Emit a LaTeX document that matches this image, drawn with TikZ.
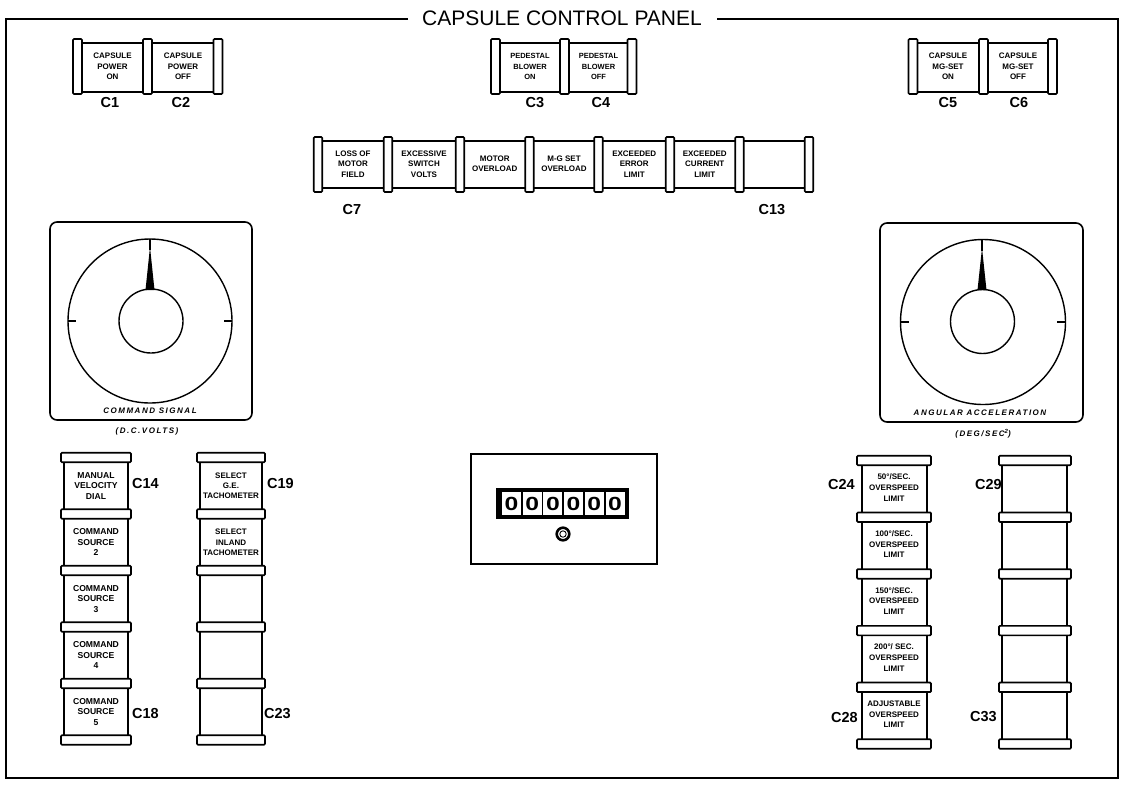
\documentclass[tikz,border=0pt]{standalone}
\usepackage{fontspec}
\usepackage{graphicx}
\setmainfont{Liberation Sans}
\newfontfamily\spacedfont[LetterSpace=19]{Liberation Sans}
\begin{document}
\begin{tikzpicture}[x=1pt,y=-1pt,
  frameline/.style={line width=1.2pt},
  bodyline/.style={line width=1.6pt},
  capbox/.style={line width=1.7pt, fill=white, rounded corners=1pt},
  lbl/.style={font=\fontsize{14.5}{14.5}\selectfont\bfseries, inner sep=0pt},
  btxt/.style={font=\fontsize{8}{10.4}\selectfont\bfseries, align=center, inner sep=0pt},
  ctxt/.style={font=\fontsize{8.6}{10.4}\selectfont\bfseries, align=center, inner sep=0pt},
  rtxt/.style={font=\fontsize{8}{10.8}\selectfont\bfseries, align=center, inner sep=0pt},
  dialtxt/.style={font=\spacedfont\fontsize{8}{8}\selectfont\bfseries\itshape, inner sep=0pt},
  dialbox/.style={line width=1.6pt, rounded corners=7pt},
  digit/.style={font=\fontsize{19}{19}\selectfont\bfseries, inner sep=0pt}
]
\useasboundingbox (0,0) rectangle (1122,785);
\fill[white] (0,0) rectangle (1122,785);

% outer frame
\node[font=\fontsize{21}{21}\selectfont, inner sep=0pt] (title) at (562,18) {CAPSULE CONTROL PANEL};
\draw[frameline] (408,19) -- (6,19) -- (6,778) -- (1118,778) -- (1118,19) -- (717,19);

% ---------- top row buttons ----------
% C1 / C2
\draw[bodyline] (77.5,43) rectangle (218,92);
\foreach \x in {77.5,147.5,218} \draw[capbox] (\x-4.5,39) rectangle (\x+4.5,94);
\node[btxt] (b1) at (112.5,66.5) {CAPSULE\\POWER\\ON};
\node[btxt] (b2) at (183,66.5) {CAPSULE\\POWER\\OFF};
\node[lbl] (l1) at (110,103) {C1};
\node[lbl] (l2) at (181,103) {C2};
% C3 / C4
\draw[bodyline] (495.5,43) rectangle (632,92);
\foreach \x in {495.5,564.5,632} \draw[capbox] (\x-4.5,39) rectangle (\x+4.5,94);
\node[btxt, font=\fontsize{7.5}{10.3}\selectfont\bfseries] (b3) at (530,66.5) {PEDESTAL\\BLOWER\\ON};
\node[btxt, font=\fontsize{7.5}{10.3}\selectfont\bfseries] (b4) at (598.5,66.5) {PEDESTAL\\BLOWER\\OFF};
\node[lbl] (l3) at (535,103) {C3};
\node[lbl] (l4) at (601,103) {C4};
% C5 / C6
\draw[bodyline] (913,43) rectangle (1052.5,92);
\foreach \x in {913,983.5,1052.5} \draw[capbox] (\x-4.5,39) rectangle (\x+4.5,94);
\node[btxt] (b5) at (948,66.5) {CAPSULE\\MG-SET\\ON};
\node[btxt] (b6) at (1018,66.5) {CAPSULE\\MG-SET\\OFF};
\node[lbl] (l5) at (948,103) {C5};
\node[lbl] (l6) at (1019,103) {C6};

% ---------- annunciator row C7-C13 ----------
\draw[bodyline] (318,141) rectangle (809,188);
\foreach \x in {318,388,460,529.5,598.5,670,739.5,809} \draw[capbox] (\x-4.25,137) rectangle (\x+4.25,192);
\node[btxt] (b7) at (353,164) {LOSS OF\\MOTOR\\FIELD};
\node[btxt] (b8) at (424,164) {EXCESSIVE\\SWITCH\\VOLTS};
\node[btxt] (b9) at (494.75,164) {MOTOR\\OVERLOAD};
\node[btxt] (b10) at (564,164) {M-G SET\\OVERLOAD};
\node[btxt] (b11) at (634.25,164) {EXCEEDED\\ERROR\\LIMIT};
\node[btxt] (b12) at (704.75,164) {EXCEEDED\\CURRENT\\LIMIT};
\node[lbl] (l7) at (352,210) {C7};
\node[lbl] (l13) at (772,210) {C13};

% ---------- left dial ----------
\draw[dialbox] (50,222) rectangle (252,420);
\draw[line width=1.4pt] (150,321) circle (82);
\draw[line width=1.4pt] (151,321) circle (32);
\draw[line width=1.3pt] (68,321) -- (76,321);
\draw[line width=1.3pt] (224,321) -- (232,321);
\draw[line width=1.3pt] (150,239) -- (150,250);
\fill (150,247) -- (145.5,290) -- (154.5,290) -- cycle;
\node[dialtxt] (cmd) at (150,411) {COMMAND SIGNAL};
\node[dialtxt] (cmdu) at (147,431) {(D.C.VOLTS)};

% ---------- right dial ----------
\draw[dialbox] (880,223) rectangle (1083,422);
\draw[line width=1.4pt] (983,322) circle (82.5);
\draw[line width=1.4pt] (982.5,321.5) circle (32);
\draw[line width=1.3pt] (901,322) -- (909,322);
\draw[line width=1.3pt] (1057,322) -- (1065,322);
\draw[line width=1.3pt] (982,240) -- (982,251);
\fill (982,248) -- (977.5,290) -- (986.5,290) -- cycle;
\node[dialtxt] (acc) at (980,413) {ANGULAR ACCELERATION};
\node[dialtxt] (accu) at (983,434) {(DEG/SEC\raisebox{3pt}{\fontsize{6}{6}\selectfont 2})};

% ---------- counter ----------
\draw[line width=1.5pt] (471,454) rectangle (657,564);
\fill (496,488) rectangle (629,519);
\foreach \i in {0,...,5} {
  \fill[white] (502+20.7*\i,492) rectangle (521+20.7*\i,515);
  \node[digit] (d\i) at (511.5+20.7*\i,503.5) {\scalebox{1.3}[1]{0}};
}
\draw[line width=2.6pt] (563,534) circle (6.3);
\draw[line width=0.9pt] (563,534) circle (3.2);

% ---------- left columns ----------
\draw[bodyline] (64,457.5) rectangle (128,740);
\foreach \y in {457.5,514,570.5,627,683.5,740} \draw[capbox] (61,\y-4.75) rectangle (131,\y+4.75);
\node[ctxt] (b14) at (96,485.75) {MANUAL\\VELOCITY\\DIAL};
\node[ctxt] (b15) at (96,542.25) {COMMAND\\SOURCE\\2};
\node[ctxt] (b16) at (96,598.75) {COMMAND\\SOURCE\\3};
\node[ctxt] (b17) at (96,655.25) {COMMAND\\SOURCE\\4};
\node[ctxt] (b18) at (96,711.75) {COMMAND\\SOURCE\\5};
\node[lbl, anchor=west] (l14) at (132,483) {C14};
\node[lbl, anchor=west] (l18) at (132,713) {C18};

\draw[bodyline] (200,457.5) rectangle (262,740);
\foreach \y in {457.5,514,570.5,627,683.5,740} \draw[capbox] (197,\y-4.75) rectangle (265,\y+4.75);
\node[btxt] (b19) at (231,485.75) {SELECT\\G.E.\\TACHOMETER};
\node[btxt] (b20) at (231,542.25) {SELECT\\INLAND\\TACHOMETER};
\node[lbl, anchor=west] (l19) at (267,483) {C19};
\node[lbl, anchor=west] (l23) at (264,714) {C23};

% ---------- right columns ----------
\draw[bodyline] (862,460.5) rectangle (927,744);
\foreach \y in {460.5,517.2,573.9,630.6,687.3,744} \draw[capbox] (857,\y-4.75) rectangle (931,\y+4.75);
\node[rtxt] (b24) at (894,487.5) {50°/SEC.\\OVERSPEED\\LIMIT};
\node[rtxt] (b25) at (894,544.2) {100°/SEC.\\OVERSPEED\\LIMIT};
\node[rtxt] (b26) at (894,600.9) {150°/SEC.\\OVERSPEED\\LIMIT};
\node[rtxt] (b27) at (894,657.6) {200°/ SEC.\\OVERSPEED\\LIMIT};
\node[rtxt] (b28) at (894,714.3) {ADJUSTABLE\\OVERSPEED\\LIMIT};
\node[lbl, anchor=east] (l24) at (855,485) {C24};
\node[lbl, anchor=east] (l28) at (858,717) {C28};

\draw[bodyline] (1002,460.5) rectangle (1067,744);
\foreach \y in {460.5,517.2,573.9,630.6,687.3,744} \draw[capbox] (999,\y-4.75) rectangle (1071,\y+4.75);
\node[lbl, anchor=east] (l29) at (1002,485) {C29};
\node[lbl, anchor=east] (l33) at (997,717) {C33};
\end{tikzpicture}
\end{document}
